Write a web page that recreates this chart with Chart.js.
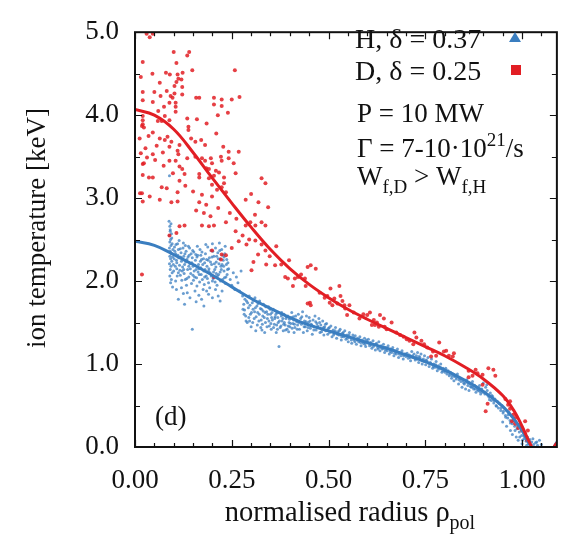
<!DOCTYPE html>
<html>
<head>
<meta charset="utf-8">
<script src="https://cdn.jsdelivr.net/npm/chart.js@4/dist/chart.umd.min.js"></script>
<style>
html,body{margin:0;padding:0;background:#fff;}
canvas{display:block;}
</style>
</head>
<body>
<canvas id="c" width="564" height="538"></canvas>
<script>
// ---- axis ticks ----
const xTickValues = [0, 0.25, 0.5, 0.75, 1.0];
const xTickLabels = ['0.00', '0.25', '0.50', '0.75', '1.00'];
const yTickValues = [0, 1, 2, 3, 4, 5];
const yTickLabels = ['0.0', '1.0', '2.0', '3.0', '4.0', '5.0'];

// ---- texts ----
const labelH = 'H, δ = 0.37';
const labelD = 'D, δ = 0.25';
const xTitle = 'normalised radius ρ';
const xTitleSub = 'pol';
const yTitle = 'ion temperature [keV]';
const panelTag = '(d)';

// ---- fitted profiles ----
const fitRadius = [0, 0.05, 0.1, 0.15, 0.2, 0.25, 0.3, 0.35, 0.4, 0.45, 0.5, 0.55, 0.6, 0.65, 0.7, 0.75, 0.8, 0.85, 0.9, 0.95, 0.98, 1.0, 1.02, 1.04, 1.07, 1.09];
const fitD = [4.07, 4.0, 3.83, 3.55, 3.24, 2.94, 2.65, 2.38, 2.15, 1.96, 1.8, 1.66, 1.54, 1.43, 1.32, 1.21, 1.1, 0.97, 0.82, 0.62, 0.43, 0.25, 0.05, -0.1, -0.06, 0.05];
const fitH = [2.48, 2.43, 2.32, 2.2, 2.07, 1.93, 1.79, 1.67, 1.56, 1.47, 1.4, 1.33, 1.26, 1.19, 1.11, 1.03, 0.93, 0.81, 0.67, 0.49, 0.33, 0.2, 0.03, -0.1, -0.08, 0.06];

// ---- measured D points [rho, Ti] ----
const pointsD = [
[0.03,4.98],[0.038,4.94],[0.046,4.98],[0.1,4.76],[0.135,4.72],[0.14,4.76],[0.02,4.64],[0.107,4.63],[0.258,4.54],
[0.015,4.46],[0.08,4.51],[0.09,4.49],[0.11,4.49],[0.123,4.51],[0.148,4.54],[0.045,4.5],
[0.064,4.39],[0.107,4.4],[0.12,4.43],[0.102,4.35],[0.122,4.34],[0.112,4.44],
[0.02,4.28],[0.05,4.28],[0.066,4.23],[0.082,4.29],[0.092,4.23],[0.102,4.26],[0.122,4.25],
[0.158,4.21],[0.166,4.21],[0.204,4.21],[0.224,4.19],[0.25,4.19],[0.27,4.22],
[0.02,4.18],[0.046,4.16],[0.089,4.15],[0.097,4.21],[0.105,4.15],
[0.204,4.13],[0.224,4.11],[0.24,4.03],[0.214,4.0],[0.105,4.1],[0.105,4.04],
[0.02,3.99],[0.02,3.94],[0.02,3.89],[0.018,3.87],[0.023,3.85],
[0.059,3.93],[0.069,3.93],[0.077,3.99],[0.089,3.94],[0.135,3.96],[0.138,3.86],
[0.046,3.79],[0.064,3.72],[0.084,3.74],[0.094,3.68],[0.077,3.7],[0.145,3.72],[0.156,3.68],[0.171,3.7],[0.181,3.64],[0.138,3.82],
[0.056,3.63],[0.089,3.62],[0.11,3.57],[0.115,3.64],
[0.015,3.54],[0.031,3.49],[0.023,3.42],[0.02,3.41],[0.046,3.53],
[0.112,3.53],[0.135,3.48],[0.156,3.5],[0.173,3.48],[0.181,3.45],[0.196,3.48],[0.199,3.42],[0.222,3.5],[0.224,3.45],[0.242,3.56],[0.242,3.48],[0.268,3.56],[0.255,3.42],
[0.074,3.39],[0.089,3.45],[0.105,3.45],[0.115,3.38],[0.122,3.35],[0.128,3.29],[0.166,3.29],[0.184,3.36],[0.191,3.35],[0.209,3.33],
[0.02,3.28],[0.036,3.25],[0.046,3.25],[0.069,3.13],[0.082,3.12],[0.11,3.07],[0.115,3.21],[0.166,3.25],[0.191,3.24],[0.204,3.27],[0.217,3.31],[0.23,3.25],
[0.199,3.16],[0.212,3.1],[0.224,3.13],[0.23,3.18],[0.235,3.07],[0.327,3.24],[0.337,3.18],[0.286,2.98],[0.319,2.95],[0.344,2.89],[0.013,3.06],
[0.018,3.06],[0.02,2.96],[0.038,3.02],[0.064,2.98],[0.094,2.95],[0.11,2.96],[0.166,2.95],[0.173,3.04],[0.184,2.92],[0.199,3.02],
[0.115,2.66],[0.128,2.67],[0.107,2.58],[0.173,2.67],[0.191,2.66],[0.204,2.67],[0.235,2.71],[0.26,2.6],[0.286,2.67],[0.298,2.71],[0.311,2.67],[0.327,2.71],[0.337,2.67],
[0.268,2.48],[0.25,2.4],[0.288,2.44],[0.311,2.49],[0.327,2.44],[0.337,2.37],[0.224,2.32],[0.222,2.26],[0.235,2.31],[0.199,2.37],
[0.301,2.13],[0.306,2.23],[0.339,2.2],[0.362,2.19],[0.388,2.05],[0.395,2.03],[0.413,2.03],[0.408,1.94],[0.018,2.08],[0.204,2.05],[0.089,2.55],
[0.012,3.72],[0.027,3.6],[0.052,3.46],[0.072,3.55],[0.098,3.3],[0.13,3.15],[0.15,3.08],[0.158,2.85],[0.178,2.82],[0.195,2.78],[0.215,2.88],[0.245,2.82],[0.262,2.75],[0.278,2.55],[0.295,2.5],[0.318,2.32],[0.348,2.3],[0.365,2.42],[0.378,2.2],[0.398,2.25],[0.035,3.75],[0.06,4.05],[0.075,4.1],[0.16,3.95],[0.185,3.9],[0.21,3.78],[0.228,3.62],[0.26,3.3],[0.3,3.05],[0.31,2.8],
[0.421,2.05],[0.429,2.08],[0.439,2.03],[0.446,2.17],[0.454,2.19],[0.467,2.15],[0.441,1.94],[0.452,1.74],[0.454,1.71],[0.446,1.73],
[0.477,1.86],[0.49,1.8],[0.505,1.91],[0.515,1.79],[0.528,1.94],[0.531,1.82],[0.536,1.76],[0.541,1.71],[0.543,1.67],[0.548,1.59],[0.554,1.71],[0.51,1.71],[0.523,1.73],[0.503,1.74],[0.497,1.82],
[0.565,1.62],[0.58,1.55],[0.59,1.6],
[0.6,1.59],[0.607,1.62],[0.617,1.53],[0.625,1.5],[0.633,1.59],[0.643,1.55],[0.645,1.45],[0.65,1.42],[0.663,1.5],[0.63,1.45],[0.62,1.47],[0.612,1.47],
[0.675,1.38],[0.685,1.35],
[0.694,1.33],[0.702,1.3],[0.722,1.38],[0.727,1.32],[0.74,1.28],[0.747,1.24],[0.719,1.24],[0.709,1.28],[0.755,1.2],[0.77,1.15],
[0.786,1.26],[0.798,1.15],[0.804,1.16],[0.811,1.1],[0.821,1.09],[0.824,1.13],[0.778,1.1],[0.765,1.09],
[0.862,0.92],[0.872,0.86],[0.885,0.89],[0.898,0.87],[0.913,0.95],[0.926,0.93],[0.931,0.86],[0.898,0.75],[0.88,0.93],[0.911,0.52],[0.906,0.43],[0.862,0.84],
[0.957,0.58],[0.964,0.51],[0.969,0.46],[0.977,0.39],[0.974,0.31],[0.982,0.28],[0.99,0.23],[1.0,0.2],[1.008,0.16],[1.013,0.08],[0.982,0.35],[0.969,0.55],[1.008,0.31],[1.015,0.2]
];

// ---- measured H points [rho, Ti] ----
const pointsH = [
[0.088,2.72],[0.09,2.66],[0.091,2.6],[0.089,2.55],[0.092,2.5],[0.09,2.47],[0.093,2.43],[0.089,2.4],[0.091,2.36],[0.094,2.33],[0.09,2.3],[0.092,2.27],[0.095,2.24],[0.089,2.21],[0.093,2.18],[0.091,2.14],[0.096,2.1],[0.09,2.06],[0.094,2.02],[0.092,1.98],[0.097,1.93],[0.091,2.62],[0.094,2.57],[0.096,2.45],[0.098,2.38],[0.097,2.29],[0.099,2.2],[0.095,2.52],[0.093,2.69],[0.1,2.12],
[0.102,2.41],[0.105,2.33],[0.107,2.25],[0.108,2.15],[0.11,2.45],[0.112,2.38],[0.113,2.28],[0.115,2.19],[0.117,2.07],[0.119,2.34],[0.12,2.24],[0.122,2.12],[0.124,2.4],[0.126,2.3],[0.128,2.2],[0.13,2.02],[0.132,2.36],[0.134,2.26],[0.136,2.14],[0.138,2.42],[0.14,2.31],[0.142,2.21],[0.144,2.09],[0.146,1.97],[0.148,2.28],[0.15,2.18],[0.152,2.35],[0.154,2.05],[0.156,2.25],[0.158,2.14],[0.16,1.94],[0.162,2.31],[0.164,2.2],[0.166,2.08],[0.168,2.38],[0.17,2.16],[0.172,2.26],[0.174,2.02],[0.176,1.9],[0.178,2.12],[0.18,2.22],[0.182,2.33],[0.184,2.06],[0.186,2.18],[0.188,2.41],[0.19,1.98],[0.192,2.28],[0.194,2.1],[0.196,2.37],[0.198,2.2],[0.2,2.45],[0.202,2.03],[0.204,2.3],[0.206,2.14],[0.208,2.4],[0.21,2.23],[0.212,1.95],[0.214,2.34],[0.216,2.08],[0.218,2.46],[0.22,2.27],[0.222,2.18],[0.224,2.38],[0.226,2.02],[0.228,2.25],[0.23,2.12],[0.232,2.33],[0.234,1.97],[0.236,2.2],[0.238,2.08],
[0.101,2.27],[0.104,2.18],[0.106,2.44],[0.109,2.06],[0.111,2.31],[0.114,2.49],[0.116,2.13],[0.118,2.29],[0.121,2.01],[0.123,2.17],[0.125,2.46],[0.127,2.09],[0.129,2.33],[0.131,2.23],[0.133,1.95],[0.137,2.29],[0.139,2.05],[0.141,2.4],[0.143,2.15],[0.147,2.22],[0.149,2.37],[0.151,2.01],[0.153,2.12],[0.157,2.32],[0.159,2.04],[0.161,2.42],[0.163,2.11],[0.167,1.99],[0.169,2.24],[0.171,2.08],[0.173,2.35],[0.177,2.27],[0.179,1.96],[0.181,2.14],[0.183,2.44],[0.187,2.03],[0.189,2.25],[0.191,2.15],[0.193,1.92],[0.197,2.06],[0.199,2.29],[0.201,2.36],[0.203,2.11],[0.207,1.99],[0.209,2.17],[0.211,2.3],[0.213,2.06],[0.217,2.21],[0.219,2.37],[0.221,2.0],[0.223,2.14],[0.227,2.31],[0.229,2.18],[0.231,2.04],[0.233,2.42],[0.237,2.26],[0.239,2.14],
[0.103,2.36],[0.108,2.22],[0.112,2.1],[0.117,2.39],[0.122,2.27],[0.126,2.14],[0.13,2.43],[0.134,2.03],[0.139,2.18],[0.145,2.33],[0.15,2.07],[0.155,2.19],[0.16,2.29],[0.165,2.15],[0.17,2.31],[0.175,2.2],[0.18,2.05],[0.185,2.26],[0.19,2.12],[0.195,2.23],[0.2,2.0],[0.205,2.21],[0.21,2.09],[0.215,2.27],[0.22,2.11],[0.225,2.2],[0.23,2.29],[0.235,2.05],[0.24,2.22],
[0.107,1.9],[0.125,1.85],[0.142,1.8],[0.155,1.88],[0.172,1.78],[0.19,1.84],[0.208,1.9],[0.22,1.76],
[0.105,2.0],[0.12,1.92],[0.135,1.86],[0.148,1.42],[0.165,1.83],[0.185,1.88],[0.2,1.8],[0.089,3.27],[0.112,1.78],[0.128,1.72],[0.158,1.75],[0.178,1.7],[0.215,1.82],[0.225,1.88],
[0.242,2.15],[0.246,2.02],[0.25,1.95],[0.254,2.1],[0.258,1.9],[0.262,2.05],[0.266,1.98],[0.27,1.88],[0.274,2.12],
[0.278,1.82],[0.281,1.72],[0.283,1.65],[0.286,1.58],[0.288,1.76],[0.29,1.5],[0.293,1.68],[0.295,1.82],[0.298,1.6],[0.3,1.45],[0.303,1.74],[0.305,1.66],[0.308,1.55],[0.31,1.8],[0.312,1.4],[0.315,1.7],[0.317,1.62],[0.32,1.52],[0.322,1.76],[0.325,1.44],[0.327,1.66],[0.33,1.58],[0.332,1.72],[0.335,1.38],[0.337,1.5],[0.34,1.63],[0.342,1.55],[0.345,1.69],[0.347,1.46],[0.35,1.6],[0.352,1.42],[0.355,1.53],[0.357,1.66],[0.36,1.48],[0.362,1.57],[0.365,1.38],[0.367,1.62],[0.37,1.5],[0.372,1.21],[0.375,1.44],[0.378,1.58],[0.38,1.52],[0.383,1.4],[0.385,1.6],[0.388,1.47],[0.39,1.55],[0.393,1.42],[0.395,1.58],[0.398,1.5],[0.4,1.45],[0.403,1.56],[0.405,1.62],[0.408,1.49],[0.41,1.53],[0.413,1.44],[0.415,1.58],[0.418,1.51],[0.42,1.47],
[0.279,1.66],[0.284,1.78],[0.287,1.52],[0.291,1.74],[0.294,1.56],[0.297,1.71],[0.301,1.62],[0.304,1.5],[0.306,1.77],[0.309,1.63],[0.313,1.57],[0.316,1.47],[0.318,1.73],[0.321,1.6],[0.324,1.67],[0.326,1.53],[0.329,1.48],[0.331,1.64],[0.334,1.56],[0.338,1.69],[0.341,1.45],[0.343,1.6],[0.346,1.52],[0.349,1.66],[0.351,1.49],[0.354,1.62],[0.358,1.44],[0.361,1.55],[0.364,1.6],[0.366,1.47],[0.369,1.56],[0.373,1.52],[0.377,1.46],[0.379,1.62],[0.382,1.55],[0.386,1.5],[0.389,1.41],[0.392,1.57],[0.396,1.46],[0.399,1.54],[0.402,1.49],[0.406,1.43],[0.409,1.57],[0.412,1.48],[0.416,1.53],[0.419,1.42],
[0.282,1.6],[0.296,1.52],[0.311,1.68],[0.328,1.41],[0.336,1.62],[0.353,1.56],[0.368,1.42],[0.384,1.48],[0.397,1.39],[0.411,1.38],
[0.422,1.6],[0.425,1.42],[0.428,1.55],[0.43,1.48],[0.433,1.63],[0.435,1.38],[0.438,1.52],[0.44,1.45],[0.443,1.58],[0.445,1.4],[0.448,1.5],[0.45,1.56],[0.453,1.43],[0.455,1.48],[0.458,1.36],[0.46,1.53],[0.463,1.45],[0.465,1.58],[0.468,1.41],[0.47,1.49],[0.473,1.44],[0.475,1.55],[0.478,1.38],[0.48,1.47],[0.483,1.42],[0.485,1.52],[0.488,1.35],[0.49,1.45],[0.493,1.4],[0.495,1.49],[0.498,1.36],[0.5,1.43],
[0.503,1.38],[0.506,1.46],[0.509,1.33],[0.512,1.41],[0.515,1.37],[0.518,1.44],[0.521,1.31],[0.524,1.39],[0.527,1.35],[0.53,1.42],[0.533,1.29],[0.536,1.37],[0.539,1.33],[0.542,1.4],[0.545,1.3],[0.548,1.35],[0.551,1.27],[0.554,1.38],[0.557,1.32],[0.56,1.25],[0.563,1.35],[0.566,1.29],[0.569,1.34],[0.572,1.24],[0.575,1.31],[0.578,1.27],[0.581,1.33],[0.584,1.22],[0.587,1.29],[0.59,1.25],[0.593,1.31],[0.596,1.21],[0.6,1.27],
[0.603,1.3],[0.606,1.22],[0.609,1.26],[0.612,1.19],[0.615,1.28],[0.618,1.23],[0.621,1.17],[0.624,1.25],[0.627,1.2],[0.63,1.27],[0.633,1.16],[0.636,1.22],[0.639,1.18],[0.642,1.24],[0.645,1.14],[0.648,1.2],[0.651,1.16],[0.654,1.22],[0.657,1.12],[0.66,1.18],[0.663,1.14],[0.666,1.2],[0.669,1.1],[0.672,1.16],[0.675,1.12],[0.678,1.18],[0.681,1.08],[0.684,1.14],[0.687,1.1],[0.69,1.16],[0.693,1.06],[0.696,1.12],[0.7,1.09],
[0.703,1.13],[0.706,1.07],[0.709,1.11],[0.712,1.04],[0.715,1.15],[0.718,1.08],[0.721,1.12],[0.724,1.05],[0.727,1.1],[0.73,1.14],[0.733,1.02],[0.736,1.08],[0.739,1.12],[0.742,1.0],[0.745,1.06],[0.748,1.1],[0.751,0.99],[0.754,1.04],[0.757,1.08],[0.76,0.97],[0.763,1.02],[0.766,1.06],[0.769,0.95],[0.772,1.0],[0.775,0.96],[0.778,1.03],[0.781,0.92],[0.784,0.98],[0.787,0.94],[0.79,1.0],[0.793,0.9],[0.796,0.95],[0.8,0.92],
[0.803,0.95],[0.806,0.88],[0.809,0.92],[0.812,0.86],[0.815,0.9],[0.818,0.83],[0.821,0.88],[0.824,0.8],[0.827,0.86],[0.83,0.82],[0.833,0.88],[0.836,0.76],[0.839,0.83],[0.842,0.79],[0.845,0.72],[0.848,0.8],[0.851,0.76],[0.854,0.7],[0.857,0.81],[0.86,0.74],[0.863,0.68],[0.866,0.76],[0.869,0.72],[0.872,0.79],[0.875,0.7],[0.878,0.74],[0.881,0.66],[0.884,0.72],[0.887,0.68],[0.89,0.74],[0.893,0.64],[0.896,0.7],[0.9,0.77],[0.903,0.66],[0.906,0.72],[0.909,0.75],[0.912,0.62],
[0.424,1.5],[0.431,1.57],[0.437,1.45],[0.442,1.51],[0.447,1.44],[0.452,1.52],[0.457,1.47],[0.462,1.41],[0.467,1.51],[0.472,1.46],[0.477,1.5],[0.482,1.39],[0.487,1.44],[0.492,1.48],[0.497,1.41],[0.502,1.44],[0.508,1.39],[0.513,1.35],[0.517,1.4],[0.523,1.36],[0.528,1.4],[0.534,1.33],[0.538,1.38],[0.544,1.34],[0.549,1.31],[0.553,1.35],[0.559,1.29],[0.564,1.32],[0.568,1.27],[0.574,1.29],[0.579,1.3],[0.583,1.26],[0.589,1.27],[0.594,1.24],[0.598,1.29],[0.604,1.25],[0.61,1.23],[0.616,1.21],[0.622,1.24],[0.628,1.18],[0.634,1.2],[0.641,1.19],[0.647,1.17],[0.652,1.19],[0.659,1.15],[0.664,1.17],[0.671,1.13],[0.676,1.15],[0.682,1.12],[0.688,1.13],[0.694,1.1],[0.699,1.12],[0.705,1.1],[0.711,1.08],[0.717,1.1],[0.723,1.07],[0.729,1.06],[0.734,1.09],[0.741,1.04],[0.747,1.03],[0.752,1.05],[0.759,1.01],[0.765,1.0],[0.771,0.97],[0.777,0.99],[0.783,0.95],[0.789,0.96],[0.795,0.92],[0.801,0.9],[0.807,0.91],[0.813,0.88],[0.819,0.86],[0.825,0.85],[0.831,0.84],[0.837,0.81],[0.843,0.82],[0.849,0.77],[0.855,0.78],[0.861,0.77],[0.867,0.73],[0.873,0.72],[0.879,0.7],[0.885,0.69],[0.891,0.67],[0.897,0.66],[0.904,0.64],[0.91,0.68],
[0.915,0.6],[0.918,0.65],[0.921,0.56],[0.924,0.61],[0.927,0.53],[0.93,0.58],[0.933,0.5],[0.936,0.55],[0.939,0.47],[0.942,0.52],[0.945,0.44],[0.948,0.5],[0.951,0.41],[0.954,0.47],[0.957,0.38],[0.96,0.44],[0.963,0.35],[0.966,0.42],[0.969,0.32],[0.972,0.38],[0.975,0.28],[0.978,0.35],[0.981,0.25],[0.984,0.31],[0.987,0.22],[0.99,0.27],[0.993,0.18],[0.996,0.24],[0.999,0.14],[1.002,0.2],[1.005,0.1],[1.008,0.16],[1.011,0.07],[1.014,0.12],[1.017,0.04],[1.02,0.09],[1.025,0.06],[1.03,0.03],[1.035,0.05],[1.04,0.02],[0.95,0.3],[0.97,0.2],[0.985,0.12],[0.96,0.25],[0.99,0.08],[1.0,0.04],[0.975,0.15],[1.045,0.08],[1.05,0.03],
[0.916,0.57],[0.922,0.62],[0.928,0.56],[0.934,0.49],[0.94,0.53],[0.946,0.47],[0.952,0.43],[0.958,0.36],[0.964,0.39],[0.97,0.29],[0.976,0.32],[0.982,0.2],[0.988,0.26],[0.994,0.12],[1.001,0.08],[1.006,0.13],[1.012,0.02],[1.018,0.07],[1.028,0.1],[1.038,0.06]
];

// ---- styles ----
const RED = 'rgb(226,30,36)';
const BLUE = 'rgb(58,126,192)';
const FONT = '"Liberation Serif", "Times New Roman", serif';
const INK = '#111';

const toXY = arr => arr.map(p => ({x: p[0], y: p[1]}));
const fitXY = vals => fitRadius.map((r, i) => ({x: r, y: vals[i]}));

function drawRich(ctx, x, y, parts, size, align) {
  let w = 0;
  const widths = parts.map(p => {
    ctx.font = (p.sub || p.sup ? Math.round(size * 0.7) : size) + 'px ' + FONT;
    const m = ctx.measureText(p.t).width;
    w += m;
    return m;
  });
  let cx = align === 'center' ? x - w / 2 : x;
  parts.forEach((p, i) => {
    ctx.font = (p.sub || p.sup ? Math.round(size * 0.7) : size) + 'px ' + FONT;
    const dy = p.sub ? size * 0.28 : (p.sup ? -size * 0.4 : 0);
    ctx.fillText(p.t, cx, y + dy);
    cx += widths[i];
  });
}

const decor = {
  id: 'decor',
  afterDraw(chart) {
    const {ctx, chartArea: a, scales: {x, y}} = chart;
    ctx.save();
    ctx.strokeStyle = INK;
    ctx.lineWidth = 1.2;
    ctx.beginPath();
    for (let k = 0; k * 0.05 <= x.max + 1e-9; k++) {
      const px = Math.round(x.getPixelForValue(k * 0.05)) + 0.5;
      const len = (k % 5 === 0) ? 7 : 4;
      ctx.moveTo(px, a.bottom); ctx.lineTo(px, a.bottom - len);
      ctx.moveTo(px, a.top); ctx.lineTo(px, a.top + len);
    }
    for (let k = 0; k <= 10; k++) {
      const py = Math.round(y.getPixelForValue(k * 0.5)) + 0.5;
      const len = (k % 2 === 0) ? 7 : 5;
      ctx.moveTo(a.left, py); ctx.lineTo(a.left + len, py);
      ctx.moveTo(a.right, py); ctx.lineTo(a.right - len, py);
    }
    ctx.stroke();
    ctx.lineWidth = 2;
    ctx.strokeRect(a.left, a.top, a.right - a.left, a.bottom - a.top);

    ctx.fillStyle = INK;
    ctx.textBaseline = 'alphabetic';
    ctx.textAlign = 'left';
    const S = 27;
    drawRich(ctx, 355, 48, [{t: labelH}], 28);
    drawRich(ctx, 355, 80, [{t: labelD}], 28);
    drawRich(ctx, 357, 122, [{t: 'P = 10 MW'}], S);
    drawRich(ctx, 357, 157, [{t: 'Γ = 7-10·10'}, {t: '21', sup: true}, {t: '/s'}], S);
    drawRich(ctx, 357, 185, [{t: 'W'}, {t: 'f,D', sub: true}, {t: ' > W'}, {t: 'f,H', sub: true}], S);
    drawRich(ctx, 155, 425, [{t: panelTag}], S);

    ctx.fillStyle = BLUE;
    ctx.beginPath();
    ctx.moveTo(515, 32); ctx.lineTo(521, 42); ctx.lineTo(509, 42); ctx.closePath();
    ctx.fill();
    ctx.fillStyle = RED;
    ctx.fillRect(511, 65, 10, 10);

    ctx.fillStyle = INK;
    drawRich(ctx, 350, 521, [{t: xTitle}, {t: xTitleSub, sub: true}], 28.5, 'center');
    ctx.translate(45, 228);
    ctx.rotate(-Math.PI / 2);
    ctx.textAlign = 'center';
    ctx.font = S + 'px ' + FONT;
    ctx.fillText(yTitle, 0, 0);
    ctx.restore();
  }
};

new Chart(document.getElementById('c'), {
  type: 'scatter',
  data: {
    datasets: [
      {label: 'D fit', type: 'line', data: fitXY(fitD), borderColor: RED, borderWidth: 3, pointRadius: 0, fill: false, tension: 0.4, order: 0, clip: 0},
      {label: 'H fit', type: 'line', data: fitXY(fitH), borderColor: BLUE, borderWidth: 3, pointRadius: 0, fill: false, tension: 0.4, order: 1, clip: 0},
      {label: labelD, data: toXY(pointsD), backgroundColor: 'rgba(226,30,36,0.85)', borderWidth: 0, pointRadius: 2, order: 2},
      {label: labelH, data: toXY(pointsH), backgroundColor: 'rgba(58,126,192,0.75)', borderWidth: 0, pointRadius: 1.5, order: 3}
    ]
  },
  options: {
    responsive: false,
    animation: false,
    devicePixelRatio: 1,
    layout: {padding: {top: 16, right: 2, left: 0, bottom: 0}},
    plugins: {legend: {display: false}, tooltip: {enabled: false}},
    scales: {
      x: {
        type: 'linear', min: 0, max: 1.09,
        afterBuildTicks: s => { s.ticks = xTickValues.map(v => ({value: v})); },
        afterFit: s => { s.height = 91; },
        grid: {display: true, drawOnChartArea: false, drawTicks: false},
        border: {display: false},
        ticks: {autoSkip: false, maxRotation: 0, padding: 18, color: INK, font: {family: FONT, size: 27},
          callback: (v, i) => xTickLabels[i]}
      },
      y: {
        type: 'linear', min: 0, max: 5,
        afterBuildTicks: s => { s.ticks = yTickValues.map(v => ({value: v})); },
        afterFit: s => { s.width = 135; },
        grid: {display: true, drawOnChartArea: false, drawTicks: false},
        border: {display: false},
        ticks: {autoSkip: false, padding: 16, color: INK, font: {family: FONT, size: 27},
          callback: (v, i) => yTickLabels[i]}
      }
    }
  },
  plugins: [decor]
});
</script>
</body>
</html>
